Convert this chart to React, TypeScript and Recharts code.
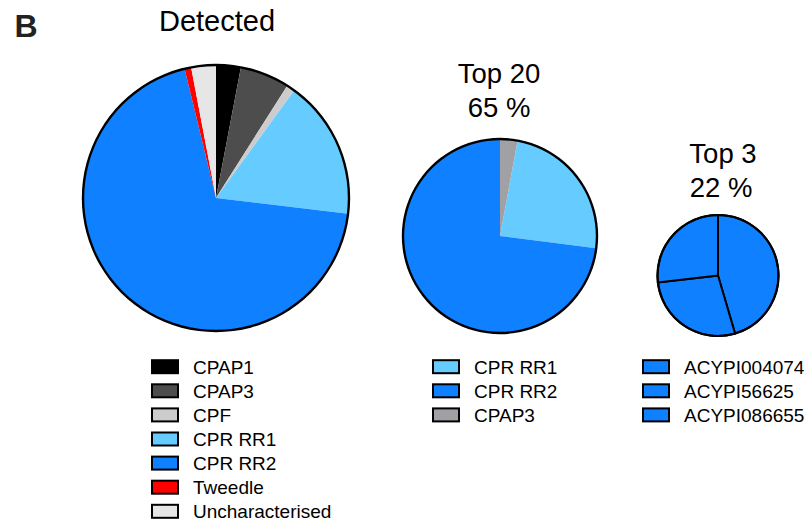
import React from 'react';
import { PieChart, Pie, Cell } from 'recharts';

const detectedNames = ['CPAP1', 'CPAP3', 'CPF', 'CPR RR1', 'CPR RR2', 'Tweedle', 'Uncharacterised'];
const detectedValues = [3.0, 6.0, 1.0, 16.9, 69.3, 0.8, 3.0];
const detectedColors = ['#000000', '#4d4d4d', '#cccccc', '#66ccff', '#0f80ff', '#ff0000', '#e6e6e6'];

const top20Names = ['CPR RR1', 'CPR RR2', 'CPAP3'];
const top20Values = [24.1, 73.0, 2.9];
const top20Colors = ['#66ccff', '#0f80ff', '#a0a0a5'];

const top3Names = ['ACYPI004074', 'ACYPI56625', 'ACYPI086655'];
const top3Values = [10, 6.1, 5.9];
const top3Colors = ['#0f80ff', '#0f80ff', '#0f80ff'];

const titleDetected = 'Detected';
const titleTop20 = ['Top 20', '65 %'];
const titleTop3 = ['Top 3', '22 %'];
const panelLabel = 'B';

const W = 811;
const H = 521;
const FONT = '"Liberation Sans", Arial, Helvetica, sans-serif';

const mk = (names: string[], values: number[]) => names.map((n, i) => ({ name: n, value: values[i] }));
const ring = [{ name: 'ring', value: 1 }];

const Legend = ({ x, y0, names, colors }: { x: number; y0: number; names: string[]; colors: string[] }) => (
  <g>
    {names.map((n, i) => {
      const cy = y0 + i * 24.1;
      return (
        <g key={n}>
          <rect x={x} y={cy - 6.5} width={26} height={13} fill={colors[i]} stroke="#000" strokeWidth={2} />
          <text x={x + 41} y={cy + 6.8} fontSize={19} fontFamily={FONT} fill="#000">
            {n}
          </text>
        </g>
      );
    })}
  </g>
);

export default function App() {
  const top20Start = 90 - (360 * top20Values[2]) / top20Values.reduce((a, b) => a + b, 0);
  return (
    <div style={{ position: 'absolute', left: 0, top: 0, width: W, height: H, background: '#fff' }}>
      <div style={{ position: 'absolute', left: 0, top: 0 }}>
        <PieChart width={W} height={H} margin={{ top: 0, right: 0, bottom: 0, left: 0 }}>
          <Pie
            data={mk(detectedNames, detectedValues)}
            dataKey="value"
            cx={216}
            cy={198}
            outerRadius={133}
            startAngle={90}
            endAngle={-270}
            stroke="none"
            isAnimationActive={false}
          >
            {detectedColors.map((c, i) => (
              <Cell key={i} fill={c} stroke="none" />
            ))}
          </Pie>
          <Pie
            data={ring}
            dataKey="value"
            cx={216}
            cy={198}
            innerRadius={131.8}
            outerRadius={134.2}
            startAngle={90}
            endAngle={-270}
            fill="#000"
            stroke="none"
            isAnimationActive={false}
          />
          <Pie
            data={mk(top20Names, top20Values)}
            dataKey="value"
            cx={500}
            cy={236}
            outerRadius={97}
            startAngle={top20Start}
            endAngle={top20Start - 360}
            stroke="none"
            isAnimationActive={false}
          >
            {top20Colors.map((c, i) => (
              <Cell key={i} fill={c} stroke="none" />
            ))}
          </Pie>
          <Pie
            data={ring}
            dataKey="value"
            cx={500}
            cy={236}
            innerRadius={95.8}
            outerRadius={98.2}
            startAngle={90}
            endAngle={-270}
            fill="#000"
            stroke="none"
            isAnimationActive={false}
          />
          <Pie
            data={mk(top3Names, top3Values)}
            dataKey="value"
            cx={718}
            cy={275.5}
            outerRadius={60.5}
            startAngle={90}
            endAngle={-270}
            stroke="#000"
            strokeWidth={2}
            isAnimationActive={false}
          >
            {top3Colors.map((c, i) => (
              <Cell key={i} fill={c} stroke="#000" strokeWidth={2} />
            ))}
          </Pie>
          <Pie
            data={ring}
            dataKey="value"
            cx={718}
            cy={275.5}
            innerRadius={59.4}
            outerRadius={61.6}
            startAngle={90}
            endAngle={-270}
            fill="#000"
            stroke="none"
            isAnimationActive={false}
          />
        </PieChart>
      </div>
      <svg width={W} height={H} style={{ position: 'absolute', left: 0, top: 0, pointerEvents: 'none' }}>
        <text x={14.5} y={36.7} fontSize={32} fontWeight="bold" fontFamily={FONT} fill="#222">
          {panelLabel}
        </text>
        <text x={217} y={30.7} fontSize={29} textAnchor="middle" fontFamily={FONT} fill="#000">
          {titleDetected}
        </text>
        <text x={499} y={83.3} fontSize={27.5} textAnchor="middle" fontFamily={FONT} fill="#000">
          {titleTop20[0]}
        </text>
        <text x={499} y={116.7} fontSize={27.5} textAnchor="middle" fontFamily={FONT} fill="#000">
          {titleTop20[1]}
        </text>
        <text x={723} y={163.3} fontSize={27.5} textAnchor="middle" fontFamily={FONT} fill="#000">
          {titleTop3[0]}
        </text>
        <text x={721} y={196.7} fontSize={27.5} textAnchor="middle" fontFamily={FONT} fill="#000">
          {titleTop3[1]}
        </text>
        <Legend x={152} y0={366.7} names={detectedNames} colors={detectedColors} />
        <Legend x={433} y0={366.7} names={top20Names} colors={top20Colors} />
        <Legend x={643} y0={366.7} names={top3Names} colors={top3Colors} />
      </svg>
    </div>
  );
}
